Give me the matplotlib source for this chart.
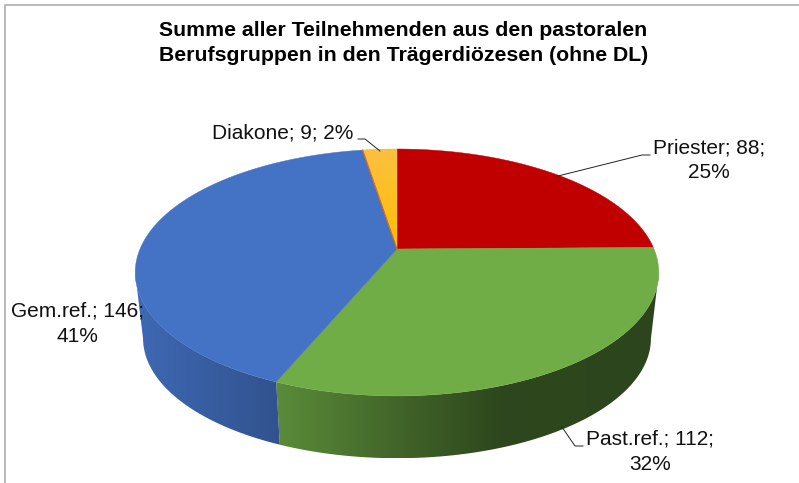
# 3D-Kreisdiagramm nachbauen (Teilnehmende nach Berufsgruppen)
import numpy as np
import matplotlib
matplotlib.use('Agg')
import matplotlib.pyplot as plt
from matplotlib.patches import Polygon

# Daten
names = ['Priester', 'Past.ref.', 'Gem.ref.', 'Diakone']
values = [88, 112, 146, 9]
percents = [25, 32, 41, 2]
title = 'Summe aller Teilnehmenden aus den pastoralen\nBerufsgruppen in den Trägerdiözesen (ohne DL)'

# Farben
top_colors = ['#c00000', '#70ad47', '#4472c4', '#ffc000']
shade_x = [136, 280, 400, 500, 660]
shades = [
    [0.60, 0.60, 0.60, 0.60, 0.60],
    [0.80, 0.80, 0.58, 0.41, 0.40],
    [0.92, 0.72, 0.72, 0.72, 0.72],
    [0.80, 0.80, 0.80, 0.80, 0.80],
]

# Geometrie der Torte in Pixeln
cx, cy = 397, 249
a, b, k = 257, 119, 0.19
depth = 66.7
scale_bottom = 0.97


def project(theta, s=1.0, dy=0.0):
    u = np.sin(theta)
    v = np.cos(theta)
    w = 1 + k * v
    return cx + s * a * u / w, cy + dy - s * b * v / w


fracs = np.array(values) / sum(values)
edges = 2 * np.pi * np.concatenate([[0], np.cumsum(fracs)])

plt.rcParams['font.family'] = ['Liberation Sans', 'DejaVu Sans']
fig = plt.figure(figsize=(7.99, 4.83), dpi=100)
ax = fig.add_axes([0, 0, 1, 1])
ax.axis('off')

# Rahmen links und oben
ax.plot([4.5, 4.5, 799], [483, 4.5, 4.5], color='#b4b4b4', lw=1.3, zorder=1)

# Seitenwand mit Verlauf von links nach rechts (nur der sichtbare Teil)
for i in range(len(values)):
    t = np.linspace(edges[i], edges[i + 1], 300)
    t = t[np.cos(t) <= -k]
    if len(t) < 2:
        continue
    x_top, y_top = project(t)
    x_bot, y_bot = project(t, s=scale_bottom, dy=depth)
    pts = np.column_stack([np.concatenate([x_top, x_bot[::-1]]),
                           np.concatenate([y_top, y_bot[::-1]])])
    base = np.array(matplotlib.colors.to_rgb(top_colors[i]))
    grad_x = np.linspace(pts[:, 0].min(), pts[:, 0].max(), 300)
    rgb = np.outer(np.interp(grad_x, shade_x, shades[i]), base).reshape(1, -1, 3)
    wall = Polygon(pts, facecolor='none', edgecolor='none', zorder=2)
    ax.add_patch(wall)
    im = ax.imshow(rgb, extent=[grad_x[0], grad_x[-1], pts[:, 1].max(), pts[:, 1].min()],
                   aspect='auto', zorder=2, interpolation='bilinear')
    im.set_clip_path(wall)

# Oberseite
for i in range(len(values)):
    t = np.linspace(edges[i], edges[i + 1], 200)
    xs, ys = project(t)
    xs = np.concatenate([[cx], xs])
    ys = np.concatenate([[cy], ys])
    poly = Polygon(np.column_stack([xs, ys]), facecolor=top_colors[i],
                   edgecolor=top_colors[i], lw=0.3, zorder=3)
    ax.add_patch(poly)
    if names[i] == 'Diakone':
        grad = np.linspace(0, 1, 50).reshape(-1, 1, 1)
        rgb = (1 - grad) * np.array([0.988, 0.75, 0.25]) + grad * np.array([1.0, 0.753, 0.0])
        im = ax.imshow(rgb, extent=[xs.min(), xs.max(), ys.max(), ys.min()],
                       aspect='auto', zorder=3.2)
        im.set_clip_path(poly)
        ex, ey = project(edges[i])
        ax.plot([cx, ex], [cy, ey], color='#e0641e', lw=0.8, zorder=3.4)

# Beschriftung
label_pos = [(709, 160.5), (650, 451.5), (77, 323.5)]
for i in range(3):
    ax.text(label_pos[i][0], label_pos[i][1], f'{names[i]}; {values[i]};\n{percents[i]}%',
            ha='center', va='center', fontsize=15, color='#111111', linespacing=1.4, zorder=5)
ax.text(283, 133, f'{names[3]}; {values[3]}; {percents[3]}%', ha='center', va='center',
        fontsize=15, color='#111111', zorder=5)

# Führungslinien
ax.plot([558, 642, 650], [176, 155, 155], color='#222222', lw=0.7, zorder=4)
ax.plot([562, 575, 583], [427, 446, 446], color='#222222', lw=0.7, zorder=4)
ax.plot([358, 365, 380], [139, 139, 151], color='#222222', lw=0.7, zorder=4)

ax.text(403.5, 43, title, ha='center', va='center', fontsize=15.3, fontweight='bold',
        color='black', linespacing=1.4, zorder=5)

ax.set_xlim(0, 799)
ax.set_ylim(483, 0)

fig.savefig('out.png', dpi=100)
